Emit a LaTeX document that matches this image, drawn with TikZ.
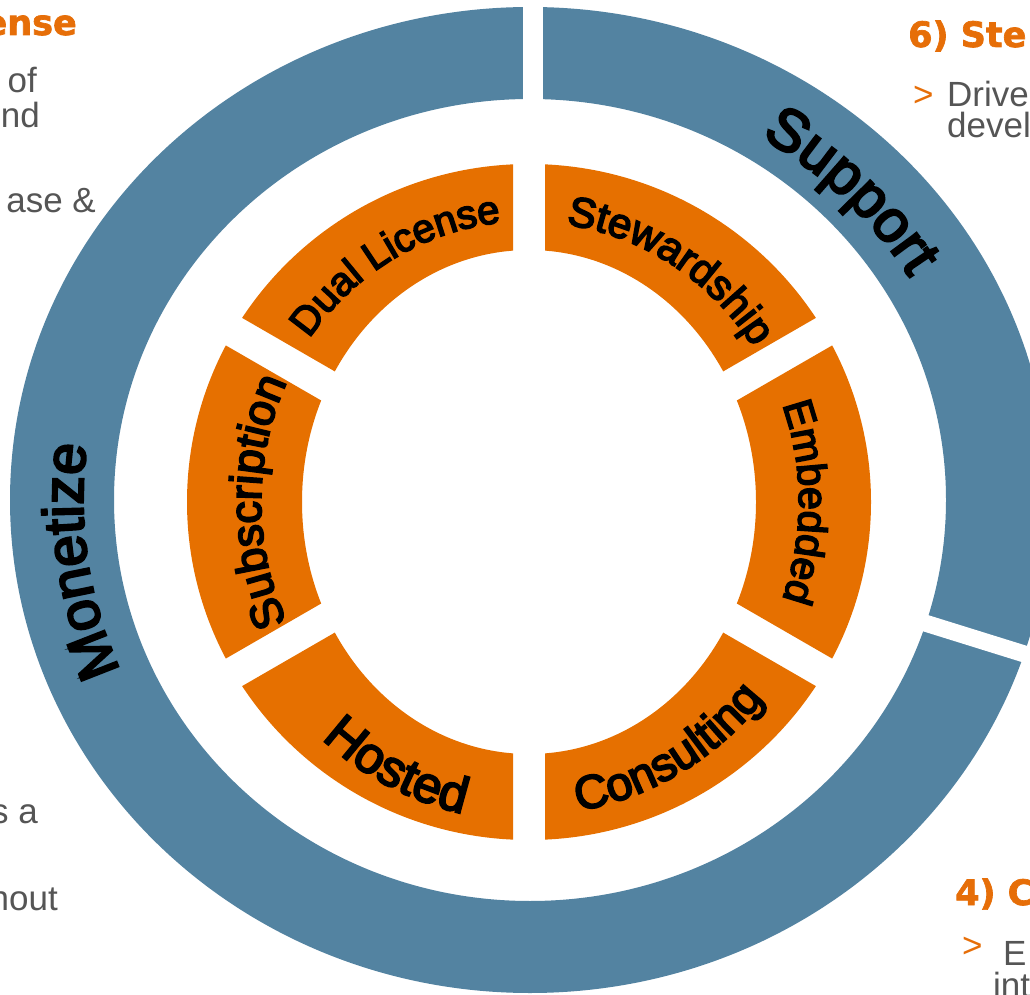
\documentclass[tikz,border=0pt]{standalone}
\usepackage{fontspec}
\setmainfont{Liberation Sans}
\newfontfamily\arcfont[RawFeature={embolden=4}]{Liberation Sans}
\newfontfamily\headfont[RawFeature={embolden=2}]{DejaVu Sans Bold}
\usetikzlibrary{decorations.text}
\definecolor{ringblue}{RGB}{83,131,161}
\definecolor{segorange}{RGB}{230,112,0}
\definecolor{headorange}{RGB}{230,110,8}
\definecolor{bodygray}{RGB}{85,85,85}
\tikzset{
  body/.style={anchor=base east, inner sep=0pt, text=bodygray, font=\fontsize{35}{31}\selectfont},
  bodyw/.style={body, anchor=base west},
  arrowmark/.style={bodyw, text=headorange},
  head/.style={anchor=base west, inner sep=0pt, text=headorange, font=\headfont\fontsize{35}{35}\selectfont},
}
\begin{document}
\begin{tikzpicture}[x=1pt,y=1pt]
\useasboundingbox (0,0) rectangle (1030,994);
\coordinate (B) at (530,494);
\coordinate (O) at (529,492);

% outer blue ring
\fill[ringblue, even odd rule] (B) ellipse [x radius=520pt, y radius=493pt]
                               (B) ellipse [x radius=416pt, y radius=401pt];
\fill[white] (523,850) rectangle (543,1000);
\fill[white, rotate around={-17.3:(530,494)}] (905,485.5) rectangle (1130,502.5);

% inner orange segments
\foreach \c in {0,60,...,300}{
  \begin{scope}
    \clip (O) ++(\c:32pt) -- ++(\c-30:600pt) -- ++(\c+90:600pt) -- cycle;
    \fill[segorange, even odd rule] (O) ellipse [x radius=342pt, y radius=338pt]
                                    (O) ellipse [x radius=227pt, y radius=252pt];
  \end{scope}
}

% ring labels
\path[decorate, decoration={text along path, text align=center,
  text={|\arcfont\fontsize{59}{59}\selectfont|Support}}]
  (B) ++(72:446pt and 424pt) arc[start angle=72, end angle=18, x radius=446pt, y radius=424pt];
\path[decorate, decoration={text along path, text align=center,
  text={|\arcfont\fontsize{57}{57}\selectfont|Monetize}}]
  (B) ++(220:447pt and 425pt) arc[start angle=220, end angle=156, x radius=447pt, y radius=425pt];

% segment labels
\path[decorate, decoration={text along path, text align=center,
  text={|\arcfont\fontsize{40}{40}\selectfont|Dual License}}]
  (O) ++(158:270pt and 281pt) arc[start angle=158, end angle=82, x radius=270pt, y radius=281pt];
\path[decorate, decoration={text along path, text align=center,
  text={|\arcfont\fontsize{42}{42}\selectfont|Stewardship}}]
  (O) ++(96:269pt and 280pt) arc[start angle=96, end angle=20, x radius=269pt, y radius=280pt];
\path[decorate, decoration={text along path, text align=center,
  text={|\arcfont\fontsize{41}{41}\selectfont|Embedded}}]
  (O) ++(38:270pt and 281pt) arc[start angle=38, end angle=-38, x radius=270pt, y radius=281pt];
\path[decorate, decoration={text along path, text align=center,
  text={|\arcfont\fontsize{45}{45}\selectfont|Subscription}}]
  (O) ++(218:268pt and 279pt) arc[start angle=218, end angle=142, x radius=268pt, y radius=279pt];
\path[decorate, decoration={text along path, text align=center,
  text={|\arcfont\fontsize{47}{47}\selectfont|Consulting}}]
  (O) ++(262:302pt and 313pt) arc[start angle=262, end angle=338, x radius=302pt, y radius=313pt];
\path[decorate, decoration={text along path, text align=center,
  text={|\arcfont\fontsize{51}{51}\selectfont|Hosted}}]
  (O) ++(205:309pt and 319pt) arc[start angle=205, end angle=281, x radius=309pt, y radius=319pt];

% side text fragments
\node[head, anchor=base east] (hl) at (77,959) {ense};
\node[body] (l1) at (37,901) {of};
\node[body] (l2) at (40,866) {nd};
\node[body] (l3) at (96,781) {ase \&};
\node[body] (l4) at (38,171) {s a};
\node[body] (l5) at (58,84) {hout};

\node[head] (h6) at (908,947) {6) Ste};
\node[arrowmark] (a6) at (913,887) {>};
\node[bodyw] (r1) at (947,887) {Drive};
\node[bodyw] (r2) at (947,856) {devel};

\node[head] (h4) at (955,89) {4) C};
\node[arrowmark] (a4) at (962,37) {>};
\node[bodyw] (r3) at (1003,29) {E};
\node[bodyw] (r4) at (993,-3) {int};
\end{tikzpicture}
\end{document}
